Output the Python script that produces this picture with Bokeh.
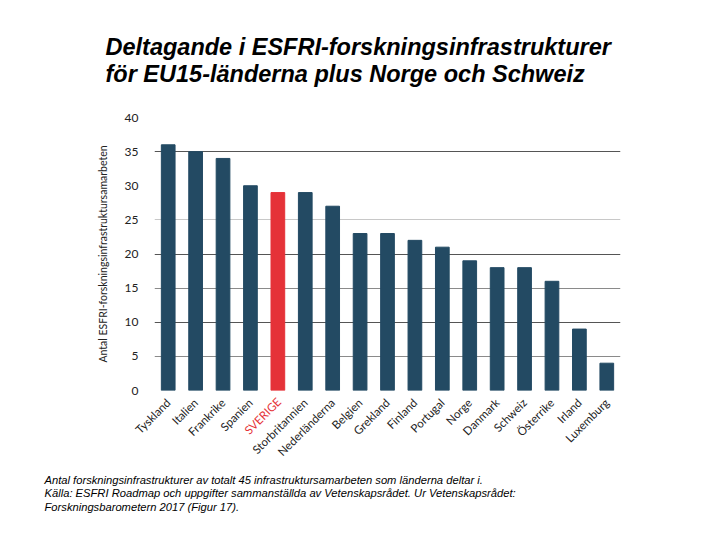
import math
from bokeh.plotting import figure
from bokeh.models import (ColumnDataSource, FactorRange, Range1d, FixedTicker, Grid, Label, Title,
                          CustomJSTickFormatter)
from bokeh.embed import file_html
from bokeh.resources import INLINE

# ---- data ----
countries = ["Tyskland", "Italien", "Frankrike", "Spanien", "SVERIGE", "Storbritannien",
             "Nederländerna", "Belgien", "Grekland", "Finland", "Portugal", "Norge",
             "Danmark", "Schweiz", "Österrike", "Irland", "Luxemburg"]
values = [36, 35, 34, 30, 29, 29, 27, 23, 23, 22, 21, 19, 18, 18, 16, 9, 4]
highlight = "SVERIGE"
y_ticks = [0, 5, 10, 15, 20, 25, 30, 35, 40]

title_lines = ["Deltagande i ESFRI-forskningsinfrastrukturer",
               "för EU15-länderna plus Norge och Schweiz"]
footer_lines = ["Antal forskningsinfrastrukturer av totalt 45 infrastruktursamarbeten som länderna deltar i.",
                "Källa: ESFRI Roadmap och uppgifter sammanställda av Vetenskapsrådet. Ur Vetenskapsrådet:",
                "Forskningsbarometern 2017 (Figur 17)."]
y_label = "Antal ESFRI-forskningsinfrastruktursamarbeten"

# ---- styles ----
BLUE = "#234a63"
RED = "#e53238"
W, H = 704, 524
FL, FT, FR, FB = 154, 117, 620, 390   # frame edges on the canvas

bar_colors = [RED if c == highlight else BLUE for c in countries]
src = ColumnDataSource(dict(cat=countries, val=values, color=bar_colors))

p = figure(x_range=FactorRange(*countries), y_range=Range1d(0, 40),
           width=W, height=H, output_backend="svg", toolbar_location=None,
           min_border_left=FL, min_border_right=W - FR, min_border_top=FT,
           min_border_bottom=H - FB)
p.outline_line_color = None
p.background_fill_color = "white"
p.border_fill_color = "white"

# grids
p.xgrid.visible = False
p.ygrid.visible = False
for ticks, col in (([25, 40], "#c8c8c8"), ([5, 15], "#8a8a8a"), ([0, 10, 20, 35], "#555555")):
    g = Grid(dimension=1, ticker=FixedTicker(ticks=ticks), grid_line_color=col,
             grid_line_width=1)
    p.add_layout(g)

p.vbar(x="cat", top="val", width=0.5, color="color", source=src)

# x axis: rotated category labels; the highlighted one is drawn separately in red
xa = p.xaxis[0]
xa.axis_line_color = None
xa.major_tick_line_color = None
xa.minor_tick_line_color = None
xa.major_label_orientation = math.pi / 4
xa.major_label_standoff = 4
xa.major_label_text_font = "Lato"
xa.major_label_text_font_size = "11.5px"
xa.major_label_text_color = "#222222"
xa.formatter = CustomJSTickFormatter(args=dict(hl=highlight),
                                     code="return tick === hl ? '' : tick")

hi = countries.index(highlight)
p.add_layout(Label(x=hi + 0.5, y=0, text=highlight, angle=math.pi / 4,
                   text_align="right", text_baseline="middle",
                   x_offset=1, y_offset=-9,
                   text_font="Lato", text_font_size="11.5px", text_color=RED), "right")

# y axis
ya = p.yaxis[0]
ya.ticker = FixedTicker(ticks=y_ticks)
ya.axis_line_color = None
ya.major_tick_line_color = None
ya.minor_tick_line_color = None
ya.major_label_standoff = 10
ya.major_label_text_font = "Lato"
ya.major_label_text_font_size = "12px"
ya.major_label_text_color = "#222222"
ya.axis_label = y_label
ya.axis_label_text_font = "Lato"
ya.axis_label_text_font_style = "normal"
ya.axis_label_text_font_size = "10.5px"
ya.axis_label_text_color = "#222222"
ya.axis_label_standoff = 13

# title
p.add_layout(Title(text="\n".join(title_lines), align="left", offset=105 - FL, standoff=60,
                   text_font="Liberation Sans", text_font_style="bold italic",
                   text_font_size="23.5px", text_color="black", text_line_height=1.05), "above")

# footer
p.add_layout(Title(text="\n".join(footer_lines), align="left", offset=44 - FL, standoff=13,
                   text_font="Liberation Sans", text_font_style="italic",
                   text_font_size="11.2px", text_color="black", text_line_height=1.13), "below")

open("out.html", "w").write(file_html(p, INLINE))
